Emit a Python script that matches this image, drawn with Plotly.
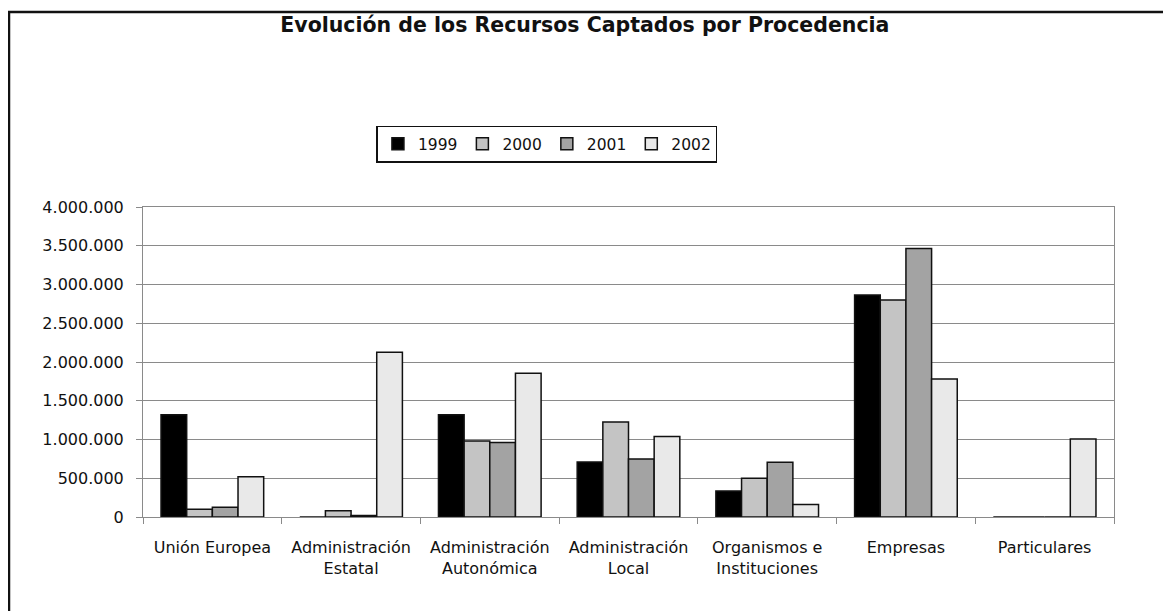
import plotly.graph_objects as go

categories = [
    "Unión Europea",
    "Administración<br>Estatal",
    "Administración<br>Autonómica",
    "Administración<br>Local",
    "Organismos e<br>Instituciones",
    "Empresas",
    "Particulares",
]
years = ["1999", "2000", "2001", "2002"]

v1999 = [1320000, 0, 1320000, 710000, 335000, 2865000, 0]
v2000 = [100000, 80000, 980000, 1225000, 500000, 2800000, 0]
v2001 = [125000, 20000, 960000, 750000, 705000, 3465000, 0]
v2002 = [520000, 2125000, 1855000, 1040000, 160000, 1780000, 1005000]

series = [v1999, v2000, v2001, v2002]
colors = ["#000000", "#c4c4c4", "#a3a3a3", "#e9e9e9"]

fig = go.Figure()
for name, vals, col in zip(years, series, colors):
    fig.add_trace(go.Bar(
        name=name, x=categories, y=vals,
        marker=dict(color=col, line=dict(color="#111111", width=1.5)),
    ))

font_family = "DejaVu Sans, Arial, sans-serif"

# page body adds an 8px offset, so the figure is 8px smaller each way
fig.update_layout(
    width=1163, height=603,
    margin=dict(l=135, r=57, t=199, b=94),
    paper_bgcolor="white", plot_bgcolor="white",
    barmode="group", bargap=0.26, bargroupgap=0,
    separators=",.",
    font=dict(family=font_family, size=16, color="#111111"),
    title=dict(
        text="<b>Evolución de los Recursos Captados por Procedencia</b>",
        x=0.496, xanchor="center", y=0.972, yanchor="middle",
        font=dict(size=20.5, family=font_family, color="#111111"),
    ),
    legend=dict(
        orientation="h", x=0.416, xanchor="center", y=1.203, yanchor="middle",
        bordercolor="#111111", borderwidth=1.5, bgcolor="white",
        font=dict(size=15.5), itemwidth=30, traceorder="normal",
    ),
    showlegend=True,
)

fig.update_yaxes(
    range=[0, 4000000], tickvals=[0, 500000, 1000000, 1500000, 2000000,
                                   2500000, 3000000, 3500000, 4000000],
    tickformat=",d", showgrid=True, gridcolor="#8a8a8a", gridwidth=1,
    showline=True, linecolor="#8a8a8a", linewidth=1, mirror=True,
    ticks="outside", ticklen=6, tickcolor="#8a8a8a",
    ticklabelstandoff=9, zeroline=False,
)
fig.update_xaxes(
    showline=True, linecolor="#8a8a8a", linewidth=1, mirror=True,
    ticks="outside", ticklen=6, tickcolor="#8a8a8a", tickson="boundaries",
    ticklabelstandoff=16, showgrid=False, tickangle=0,
)

# outer frame of the chart area
fig.add_shape(
    type="rect", xref="paper", yref="paper",
    x0=-0.138, x1=1.0535, y0=-0.4, y1=1.629,
    line=dict(color="#111111", width=2.5), fillcolor="rgba(0,0,0,0)",
    layer="below",
)

fig.write_html("out.html")
